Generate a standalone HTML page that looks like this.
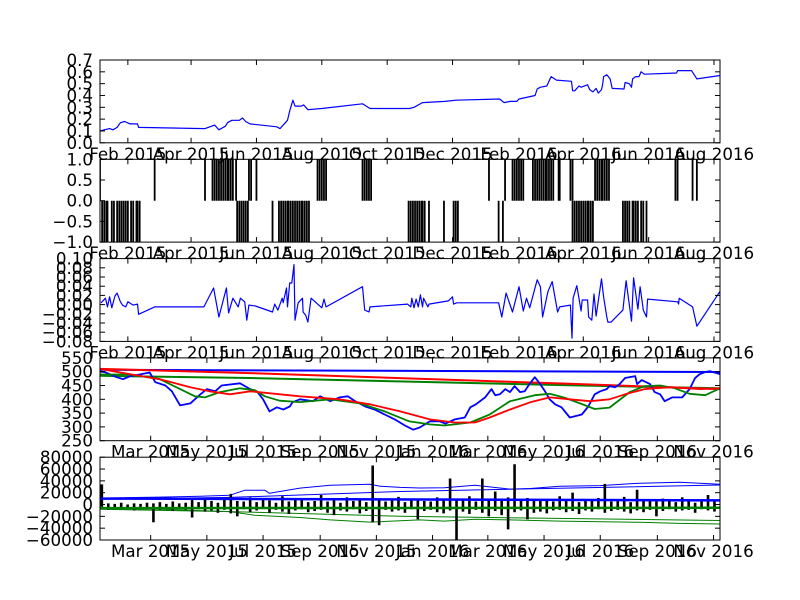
<!DOCTYPE html>
<html><head><meta charset="utf-8"><style>
html,body{margin:0;padding:0;background:#fff;}
svg{display:block;font-family:"DejaVu Sans","Liberation Sans",sans-serif;}
</style></head><body>
<svg id="fig" width="800" height="600" viewBox="0 0 800 600" xmlns="http://www.w3.org/2000/svg"></svg>
<script>
// ---- Panel 1 (ratio line) ----
const p1Days=[5,9,14,17,21,24,28,33,40,41,103,112,116,122,124,128,135,138,141,145,170,173,180,182,185,187,193,195,199,212,250,257,294,298,306,327,337,378,382,388,394,396,411,413,416,422,426,431,445,446,448,452,454,460,462,465,468,470,473,474,475,478,481,483,494,495,499,501,502,505,508,510,513,543,544,557,562,584];
const p1Vals=[0.10,0.11,0.12,0.11,0.13,0.17,0.18,0.16,0.16,0.13,0.12,0.15,0.11,0.14,0.17,0.19,0.19,0.21,0.18,0.16,0.135,0.12,0.19,0.27,0.36,0.31,0.31,0.32,0.28,0.29,0.33,0.29,0.29,0.30,0.34,0.35,0.36,0.37,0.34,0.35,0.35,0.37,0.40,0.455,0.47,0.48,0.56,0.53,0.52,0.44,0.44,0.48,0.47,0.49,0.45,0.43,0.46,0.42,0.45,0.49,0.56,0.575,0.54,0.46,0.455,0.51,0.50,0.47,0.54,0.56,0.56,0.60,0.58,0.59,0.61,0.61,0.54,0.57];
const p1Ticks=[0,0.1,0.2,0.3,0.4,0.5,0.6,0.7];
const p1Labels=["0.0","0.1","0.2","0.3","0.4","0.5","0.6","0.7"];
// ---- Panel 2 (signals) ----
const p2NegDays=[7,9,11,12,16,18,21,23,25,27,29,31,34,36,39,40,42,133,135,137,139,141,143,166,172,174,176,178,180,181,183,185,187,189,191,193,194,196,198,200,293,295,297,299,301,303,305,306,308,312,326,335,337,339,377,381,446,448,450,452,454,456,458,460,461,463,465,493,495,497,499,502,503,505,507,510,512,515];
const p2PosDays=[5,56,103,110,112,114,116,118,120,122,124,125,127,129,132,144,146,151,208,210,212,214,216,250,252,254,256,258,368,383,390,392,394,396,398,400,409,411,413,415,417,419,421,422,424,426,428,433,434,444,446,467,469,471,473,474,476,478,480,542,544,558,562,584];
const p2Ticks=[-1,-0.5,0,0.5,1];
const p2Labels=["\u22121.0","\u22120.5","0.0","0.5","1.0"];
// ---- Panel 3 (returns) ----
const p3Days=[6,10,12,14,16,19,21,24,26,29,31,36,40,41,56,102,111,116,123,125,129,134,136,140,142,144,150,166,168,171,175,176,179,180,182,184,186,187,190,194,194.5,197,199,202,212,214,216,250,252,256,257,292,295,296,298,300,302,304,306,307,309,311,312,330,334,335,338,377,380,384,390,396,400,403,406,413,416,418,423,427,432,434,444,445.5,446.5,450,454,455,460,461,464,466,468,473,475,478,479,482,493,496,501,503,507,509,512,515,516,544,545,545.5,558,562,584];
const p3Vals=[0.004,0.014,-0.005,0.017,-0.007,0.019,0.025,0.006,-0.001,-0.005,0.006,-0.001,0.001,-0.021,-0.005,-0.005,0.036,-0.027,0.036,-0.018,0.014,-0.005,0.014,0.006,-0.034,-0.001,-0.003,-0.016,0.001,-0.012,0.014,0.004,0.036,-0.005,0.047,0.047,0.087,-0.034,0.004,0.014,-0.016,-0.023,-0.038,0.014,-0.007,0.012,-0.005,0.039,-0.012,-0.016,-0.005,0.001,-0.005,0.014,-0.007,0.012,-0.005,0.021,-0.005,0.014,0.004,-0.005,0.001,0.008,0.017,0.001,0.004,0.004,-0.027,0.025,-0.016,0.039,-0.014,0.014,-0.007,0.054,0.039,-0.027,0.028,0.050,-0.016,-0.005,-0.001,-0.073,0.014,0.041,-0.014,0.010,0.010,-0.027,-0.034,0.023,-0.025,0.056,0.017,-0.027,-0.038,-0.038,-0.012,0.052,-0.036,0.058,-0.010,0.039,-0.012,-0.027,0.012,0.006,0.001,0.014,-0.005,-0.047,0.030];
const p3Ticks=[-0.08,-0.06,-0.04,-0.02,0,0.02,0.04,0.06,0.08,0.10];
const p3Labels=["\u22120.08","\u22120.06","\u22120.04","\u22120.02","0.00","0.02","0.04","0.06","0.08","0.10"];
// ---- Panel 4 (price + moving averages) ----
const p4PriceDays=[4,9,22,29,37,47,58,64,75,82,91,102,113,120,129,136,156,167,175,181,188,196,203,210,213,221,235,243,254,264,273,281,292,302,313,324,335,344,351,362,373,379,389,400,406,412,422,429,433,438,444,449,454,460,465,471,476,481,487,492,498,505,514,519,527,534,541,547,554,557,563,568,574,585,587,592,601,606,612,617,625,636,644,650,655,661,666,677];
const p4Price=[500,499,480,473,484,490,497,462,450,429,378,385,418,437,429,450,458,437,426,400,356,371,363,374,389,400,393,411,393,407,411,393,374,363,345,327,305,290,298,320,320,312,327,334,371,382,407,437,415,418,437,426,448,426,429,459,480,459,429,400,382,371,334,338,345,374,418,429,437,448,444,455,477,484,455,470,455,426,418,393,407,407,437,477,491,499,502,491];
const p4GreenDays=[4,37,69,91,107,118,134,156,172,183,199,221,254,286,313,340,362,378,406,427,449,476,492,509,525,541,557,579,595,612,628,644,661,677];
const p4Green=[490,490,473,437,411,407,426,440,433,411,395,390,400,385,356,320,309,305,316,345,393,415,420,405,385,365,370,426,448,450,440,420,415,440];
const p4RedDays=[4,37,69,102,123,145,167,221,264,297,330,362,389,411,427,449,471,492,514,536,557,574,595,623,655,677];
const p4Red=[510,491,473,444,429,418,429,411,400,382,356,327,316,316,334,363,389,407,400,393,400,418,437,444,437,440];
const p4LongBlueDays=[4,677];
const p4LongBlue=[507,499];
const p4LongRedDays=[4,167,525,677];
const p4LongRed=[510,495,455,437];
const p4LongGreenDays=[4,167,525,677];
const p4LongGreen=[485,477,450,440];
const p4Ticks=[250,300,350,400,450,500,550];
const p4Labels=["250","300","350","400","450","500","550"];
// ---- Panel 5 (flows) ----
const p5BarDays=[6,13,20,27,34,41,48,55,62,69,76,83,90,97,104,111,118,125,132,139,146,153,160,167,174,181,188,195,202,209,216,223,230,237,244,251,258,265,272,279,286,293,300,307,314,321,328,335,342,349,356,363,370,377,384,391,398,405,412,419,426,433,440,447,454,461,468,475,482,489,496,503,510,517,524,531,538,545,552,559,566,573,580,587,594,601,608,615,622,629,636,643,650,657,664,671];
const p5BarHi=[34000,2000,1000,3000,0,2000,1000,3000,2000,4000,1000,5000,2000,3000,8000,4000,9000,6000,3000,10000,18000,6000,5000,12000,4000,9000,7000,3000,14000,5000,8000,11000,4000,6000,16000,5000,9000,3000,12000,6000,10000,4000,66000,8000,5000,7000,13000,4000,9000,10000,6000,5000,12000,8000,44000,10000,7000,14000,5000,44000,9000,22000,6000,12000,68000,8000,11000,6000,9000,8000,5000,14000,7000,20000,4000,9000,6000,11000,35000,5000,8000,13000,4000,25000,6000,9000,5000,10000,7000,4000,12000,6000,3000,9000,16000,8000];
const p5BarLo=[-4000,-9000,-5000,-8000,-6000,-10000,-4000,-7000,-30000,-9000,-6000,-11000,-7000,-9000,-22000,-8000,-12000,-10000,-14000,-9000,-15000,-20000,-8000,-13000,-10000,-7000,-14000,-9000,-12000,-16000,-10000,-8000,-13000,-11000,-9000,-14000,-18000,-10000,-12000,-8000,-15000,-11000,-30000,-35000,-9000,-12000,-10000,-14000,-8000,-25000,-11000,-9000,-13000,-15000,-10000,-60000,-12000,-16000,-9000,-14000,-20000,-11000,-18000,-42000,-13000,-10000,-25000,-14000,-12000,-15000,-10000,-9000,-13000,-11000,-16000,-10000,-12000,-8000,-14000,-11000,-9000,-12000,-15000,-10000,-13000,-9000,-20000,-11000,-8000,-12000,-10000,-9000,-14000,-8000,-10000,-12000];
const p5UpperDays=[4,69,113,145,161,183,188,221,254,297,308,330,351,378,411,449,471,503,547,590,633,677];
const p5Upper=[10800,12500,14000,15800,24000,24000,19000,27700,32700,34400,31000,29000,28000,28500,32700,26000,27000,31000,32000,36000,37800,34400];
const p5Upper2Days=[4,145,330,677];
const p5Upper2=[9000,12000,22000,33000];
const p5MidBlueDays=[4,677];
const p5MidBlue=[10000,7000];
const p5MidGreenDays=[4,677];
const p5MidGreen=[-6000,-5500];
const p5LowerDays=[4,69,145,172,221,254,297,351,378,411,449,503,590,633,677];
const p5Lower=[-6000,-8000,-12000,-18000,-22000,-26000,-29700,-26000,-28000,-25000,-26000,-28000,-30000,-32000,-33000];
const p5Lower2Days=[4,145,330,677];
const p5Lower2=[-8000,-12000,-20000,-27000];
const p5Ticks=[-60000,-40000,-20000,0,20000,40000,60000,80000];
const p5Labels=["\u221260000","\u221240000","\u221220000","0","20000","40000","60000","80000"];
// ---- date ticks ----
const topTickDays=[31,90,151,212,273,334,396,456,517,578];
const topTickLabels=["Feb 2015","Apr 2015","Jun 2015","Aug 2015","Oct 2015","Dec 2015","Feb 2016","Apr 2016","Jun 2016","Aug 2016"];
const botTickDays=[59,120,181,243,304,365,425,486,547,609,670];
const botTickLabels=["Mar 2015","May 2015","Jul 2015","Sep 2015","Nov 2015","Jan 2016","Mar 2016","May 2016","Jul 2016","Sep 2016","Nov 2016"];

const NS="http://www.w3.org/2000/svg";
const fig=document.getElementById('fig');
const L=100,R=720;
function mk(tag,attrs,parent){const e=document.createElementNS(NS,tag);for(const k in attrs)e.setAttribute(k,attrs[k]);(parent||fig).appendChild(e);return e;}
function panel(name,top,bottom,d0,d1,y0,y1,yTicks,yLabels,xDays,xLabels){
  const g=mk('g',{});
  
  
  const clipId=name+'-clip';
  const cp=mk('clipPath',{id:clipId},g);mk('rect',{x:L,y:top,width:R-L,height:bottom-top},cp);
  const sx=d=>L+(d-d0)/(d1-d0)*(R-L);
  const sy=v=>bottom-(v-y0)/(y1-y0)*(bottom-top);
  const plot=mk('g',{'clip-path':'url(#'+clipId+')'},g);
  
  
  const frame=mk('rect',{x:L,y:top,width:R-L,height:bottom-top,fill:'none',stroke:'#000','stroke-width':1},g);
  
  
  yTicks.forEach((v,i)=>{const y=sy(v);
    mk('line',{x1:L,x2:L+5,y1:y,y2:y,stroke:'#000'},g);mk('line',{x1:R-5,x2:R,y1:y,y2:y,stroke:'#000'},g);
    const t=mk('text',{x:93,y:y+6,'text-anchor':'end','font-size':'16.7px',fill:'#000'},g);t.textContent=yLabels[i];
    
    
  });
  xDays.forEach((d,i)=>{const x=sx(d);
    mk('line',{x1:x,x2:x,y1:bottom,y2:bottom-5,stroke:'#000'},g);mk('line',{x1:x,x2:x,y1:top,y2:top+5,stroke:'#000'},g);
    const t=mk('text',{x:x,y:bottom+17,'text-anchor':'middle','font-size':'16.7px',fill:'#000'},g);t.textContent=xLabels[i];
    
    
  });
  return {plot,sx,sy};
}
function line(p,name,days,vals,color,w){
  const pts=days.map((d,i)=>p.sx(d).toFixed(1)+','+p.sy(vals[i]).toFixed(1)).join(' ');
  const e=mk('polyline',{points:pts,fill:'none',stroke:color,'stroke-width':w,'stroke-linejoin':'round'},p.plot);
  
  
}
const p1=panel('ratio-panel',60,142.8,5,583.6,0,0.7,p1Ticks,p1Labels,topTickDays,topTickLabels);
line(p1,'ratio-line',p1Days,p1Vals,'#0000ff',1.2);
const p2=panel('signal-panel',159.3,242.1,5,583.6,-1,1,p2Ticks,p2Labels,topTickDays,topTickLabels);
p2NegDays.forEach(d=>{const e=mk('line',{x1:p2.sx(d),x2:p2.sx(d),y1:p2.sy(0),y2:p2.sy(-1),stroke:'#000','stroke-width':1.8},p2.plot);
  
  });
p2PosDays.forEach(d=>{const e=mk('line',{x1:p2.sx(d),x2:p2.sx(d),y1:p2.sy(0),y2:p2.sy(1),stroke:'#000','stroke-width':1.8},p2.plot);
  
  });
const p3=panel('returns-panel',258.6,341.4,5,583.6,-0.08,0.10,p3Ticks,p3Labels,topTickDays,topTickLabels);
line(p3,'returns-line',p3Days,p3Vals,'#0000ff',1.2);
const p4=panel('price-panel',357.9,440.7,4,677,250,550,p4Ticks,p4Labels,botTickDays,botTickLabels);
line(p4,'long-blue-line',p4LongBlueDays,p4LongBlue,'#0000ff',2);
line(p4,'long-green-line',p4LongGreenDays,p4LongGreen,'#008000',2);
line(p4,'long-red-line',p4LongRedDays,p4LongRed,'#ff0000',2);
line(p4,'price-line',p4PriceDays,p4Price,'#0000ff',1.8);
line(p4,'green-ma-line',p4GreenDays,p4Green,'#008000',1.8);
line(p4,'red-ma-line',p4RedDays,p4Red,'#ff0000',1.8);
const p5=panel('flow-panel',457.2,540,4,677,-60000,80000,p5Ticks,p5Labels,botTickDays,botTickLabels);
line(p5,'upper-band-2',p5Upper2Days,p5Upper2,'#0000ff',1);
line(p5,'upper-band',p5UpperDays,p5Upper,'#0000ff',1);
line(p5,'lower-band-2',p5Lower2Days,p5Lower2,'#008000',1);
line(p5,'lower-band',p5LowerDays,p5Lower,'#008000',1);
p5BarDays.forEach((d,i)=>{const e=mk('line',{x1:p5.sx(d),x2:p5.sx(d),y1:p5.sy(p5BarLo[i]),y2:p5.sy(p5BarHi[i]),stroke:'#000','stroke-width':2.6},p5.plot);
  
  });
line(p5,'mid-blue-line',p5MidBlueDays,p5MidBlue,'#0000ff',2.5);
line(p5,'mid-green-line',p5MidGreenDays,p5MidGreen,'#008000',2.5);
</script>
</body></html>
